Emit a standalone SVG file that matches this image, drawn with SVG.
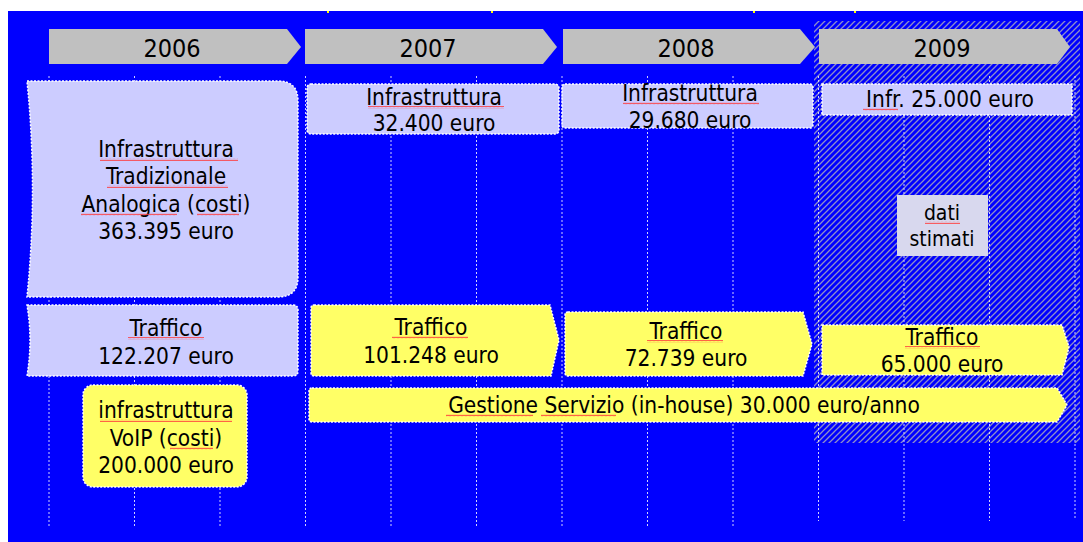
<svg xmlns="http://www.w3.org/2000/svg" width="1083" height="542" viewBox="0 0 1083 542">
<style>
text{font-family:"DejaVu Sans Condensed","DejaVu Sans",sans-serif;font-stretch:condensed;fill:#000;text-anchor:middle}
.yr{font-size:25px}
.t{font-size:22.5px}
.ts{font-size:21px}
.grid{stroke:#d0d0ff;stroke-width:1;stroke-dasharray:2 2;fill:none}
.lav{fill:#ccccff;stroke:#fff;stroke-width:1.5;stroke-dasharray:2 1.5}
.yel{fill:#ffff66;stroke:#fff;stroke-width:1.5;stroke-dasharray:2 1.5}
.arrow{fill:#c0c0c0}
.sq{fill:url(#wave)}
</style>
<defs>
<pattern id="hatch" patternUnits="userSpaceOnUse" width="6" height="6">
<path d="M-1,7 L7,-1 M-1,1 L1,-1 M5,7 L7,5" stroke="#8e8ec8" stroke-width="1.3"/>
</pattern>
<pattern id="wave" patternUnits="userSpaceOnUse" width="4" height="3">
<path d="M0,2.2 L1,0.8 L2,2.2 L3,0.8 L4,2.2" stroke="#ff3b3b" stroke-width="0.8" fill="none"/>
</pattern>
</defs>
<rect x="0" y="0" width="1083" height="542" fill="#fff"/>
<rect x="8" y="11" width="1075" height="531" fill="#0000ff"/>
<g id="title-fragments" fill="#ffff00">
<rect x="327" y="11" width="2" height="2"/>
<rect x="491" y="11" width="2" height="2"/>
<rect x="753" y="11" width="2" height="2"/>
<rect x="854" y="11" width="2" height="2"/>
</g>
<rect id="estimated-area" x="814" y="21" width="266" height="422" fill="url(#hatch)"/>
<g id="grid">
<line class="grid" x1="49" y1="76" x2="49" y2="528"/>
<line class="grid" x1="134.5" y1="76" x2="134.5" y2="528"/>
<line class="grid" x1="220" y1="76" x2="220" y2="528"/>
<line class="grid" x1="305.5" y1="76" x2="305.5" y2="528"/>
<line class="grid" x1="391" y1="76" x2="391" y2="526"/>
<line class="grid" x1="476.5" y1="76" x2="476.5" y2="526"/>
<line class="grid" x1="562" y1="76" x2="562" y2="526"/>
<line class="grid" x1="647.5" y1="76" x2="647.5" y2="526"/>
<line class="grid" x1="733" y1="76" x2="733" y2="526"/>
<line class="grid" x1="818.5" y1="76" x2="818.5" y2="521"/>
<line class="grid" x1="904" y1="76" x2="904" y2="521"/>
<line class="grid" x1="989.5" y1="76" x2="989.5" y2="521"/>
<line class="grid" x1="1075" y1="76" x2="1075" y2="519"/>
</g>
<g id="y2006"><path class="arrow" d="M49,29 L287,29 L301,47 L287,64 L49,64 Z"/><text class="yr" x="172" y="57">2006</text></g>
<g id="y2007"><path class="arrow" d="M305,29 L543,29 L557,47 L543,64 L305,64 Z"/><text class="yr" x="428" y="57">2007</text></g>
<g id="y2008"><path class="arrow" d="M563,29 L800,29 L815,47 L800,64 L563,64 Z"/><text class="yr" x="686" y="57">2008</text></g>
<g id="y2009"><path class="arrow" d="M819,29 L1057,29 L1070,47 L1057,64 L819,64 Z"/><text class="yr" x="942" y="57">2009</text></g>

<g id="infra-2006">
<path class="lav" d="M27,81 L278,81 Q298,81 298,101 L298,277 Q298,297 278,297 L27,297 Q38,189 27,81 Z"/>
<text class="t" x="166" y="157">Infrastruttura</text>
<text class="t" x="166" y="184">Tradizionale</text>
<text class="t" x="166" y="212">Analogica (costi)</text>
<text class="t" x="166" y="239">363.395 euro</text>
<rect class="sq" x="100" y="158" width="138" height="3"/>
<rect class="sq" x="107" y="185" width="121" height="3"/>
<rect class="sq" x="81" y="213" width="96" height="3"/>
<rect class="sq" x="197" y="213" width="42" height="3"/>
</g>
<g id="traffico-2006">
<path class="lav" d="M27,305 L293,305 Q298,305 298,310 L298,371 Q298,376 293,376 L27,376 Q33,340 27,305 Z"/>
<text class="t" x="166" y="336">Traffico</text>
<text class="t" x="166" y="364">122.207 euro</text>
<rect class="sq" x="128" y="337" width="76" height="3"/>
</g>
<g id="voip-2006">
<rect class="yel" x="83" y="385" width="164" height="102" rx="10"/>
<text class="t" x="166" y="418">infrastruttura</text>
<text class="t" x="166" y="446">VoIP (costi)</text>
<text class="t" x="166" y="473">200.000 euro</text>
<rect class="sq" x="100" y="419" width="132" height="3"/>
<rect class="sq" x="170" y="447" width="43" height="3"/>
</g>
<g id="infra-2007">
<rect class="lav" x="307" y="84" width="252" height="50" rx="4"/>
<text class="t" x="434" y="105">Infrastruttura</text>
<text class="t" x="434" y="131">32.400 euro</text>
<rect class="sq" x="368" y="106" width="136" height="3"/>
</g>
<g id="infra-2008">
<rect class="lav" x="562" y="84" width="251" height="44" rx="3"/>
<text class="t" x="690" y="101">Infrastruttura</text>
<text class="t" x="690" y="128">29.680 euro</text>
<rect class="sq" x="623" y="102" width="136" height="3"/>
</g>
<g id="infra-2009">
<rect class="lav" x="822" y="84" width="250" height="31"/>
<text class="t" x="950" y="107">Infr. 25.000 euro</text>
<rect class="sq" x="863" y="108" width="35" height="3"/>
</g>
<g id="dati-stimati">
<rect x="897" y="195" width="91" height="61" fill="#d8d8ee"/>
<text class="ts" x="942" y="220">dati</text>
<text class="ts" x="942" y="246">stimati</text>
<rect class="sq" x="925" y="221" width="35" height="3"/>
</g>
<g id="traffico-2007">
<path class="yel" d="M314,305 L550,305 L559,340 L551,376 L314,376 Q311,376 311,373 L311,308 Q311,305 314,305 Z"/>
<text class="t" x="431" y="335">Traffico</text>
<text class="t" x="431" y="363">101.248 euro</text>
<rect class="sq" x="392" y="336" width="76" height="3"/>
</g>
<g id="traffico-2008">
<path class="yel" d="M568,312 L803,312 L812,344 L803,376 L568,376 Q565,376 565,373 L565,315 Q565,312 568,312 Z"/>
<text class="t" x="686" y="339">Traffico</text>
<text class="t" x="686" y="366">72.739 euro</text>
<rect class="sq" x="647" y="340" width="76" height="3"/>
</g>
<g id="traffico-2009">
<path class="yel" d="M822,325 L1062,325 L1069,347 L1062,375 L822,375 Z"/>
<text class="t" x="942" y="345">Traffico</text>
<text class="t" x="942" y="372">65.000 euro</text>
<rect class="sq" x="905" y="346" width="75" height="3"/>
</g>
<g id="gestione">
<path class="yel" d="M312,388 L1057,388 L1067,405 L1057,422 L312,422 Q309,422 309,419 L309,391 Q309,388 312,388 Z"/>
<text class="t" x="684" y="413">Gestione Servizio (in-house) 30.000 euro/anno</text>
<rect class="sq" x="446" y="414" width="87" height="3"/>
<rect class="sq" x="541" y="414" width="75" height="3"/>
</g>
</svg>
